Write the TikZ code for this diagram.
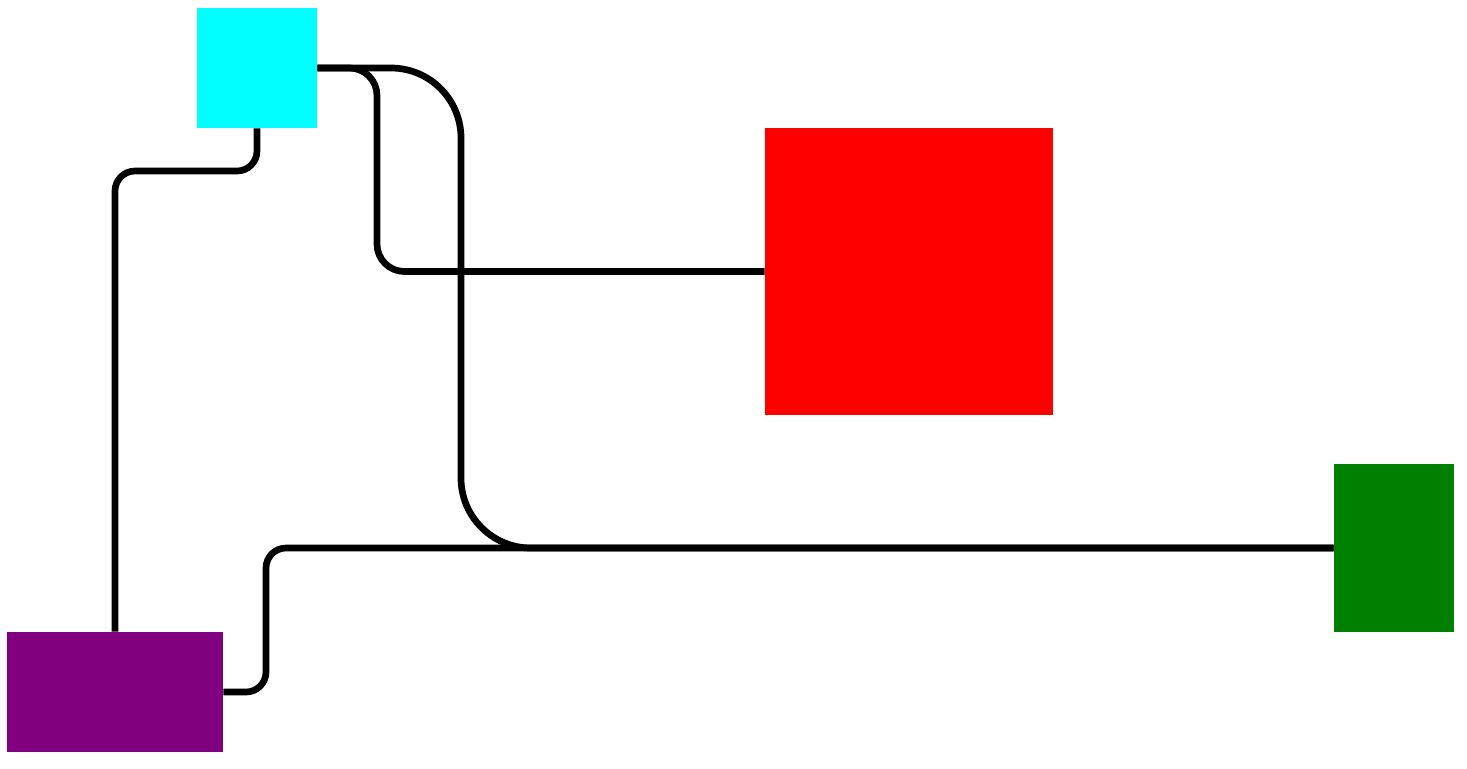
\documentclass[tikz,border=0pt]{standalone}
\usepackage{xcolor}
\definecolor{boxcyan}{HTML}{00FFFF}
\definecolor{boxred}{HTML}{FF0000}
\definecolor{boxgreen}{HTML}{008000}
\definecolor{boxpurple}{HTML}{800080}
\usepackage{tikz}

\begin{document}
\begin{tikzpicture}[x=0.02cm, y=-0.02cm,
  block/.style={rectangle, inner sep=0pt, draw=none},
  wire/.style={draw=black, line width=3.8pt}
]
  \useasboundingbox (0,0) rectangle (1467,768);

  % Blocks
  \node[block, fill=boxcyan, minimum width=2.4cm, minimum height=2.4cm] (cyan) at (257,68) {};
  \node[block, fill=boxred, minimum width=5.76cm, minimum height=5.76cm] (red) at (909,271.5) {};
  \node[block, fill=boxgreen, minimum width=2.4cm, minimum height=3.36cm] (green) at (1394,548) {};
  \node[block, fill=boxpurple, minimum width=4.32cm, minimum height=2.4cm] (purple) at (115,692) {};

  % Wires
  \draw[wire, rounded corners=0.4cm] (cyan.south) -- (cyan.south |- 0,171) -| (purple.north);
  \draw[wire, rounded corners=0.55cm] (cyan.east) -- (377,68) |- (red.west);
  \draw[wire, rounded corners=1.4cm] (cyan.east) -- (461,68) |- (green.west);
  \draw[wire, rounded corners=0.4cm] (purple.east) -- (266,692) |- (green.west);
\end{tikzpicture}
\end{document}
